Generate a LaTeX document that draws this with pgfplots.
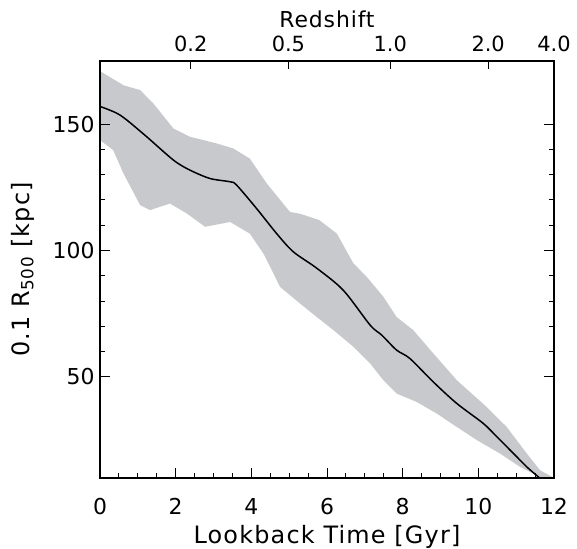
\documentclass[border=0pt]{standalone}
\usepackage{fontspec}
\setmainfont{DejaVu Sans}
\usepackage{pgfplots}
\pgfplotsset{compat=1.18}
\definecolor{band}{RGB}{200,201,204}
\newcommand{\ticksz}{\fontsize{22}{22}\selectfont}
\newcommand{\topsz}{\fontsize{21}{21}\selectfont}
\newcommand{\labsz}{\fontsize{24}{24}\selectfont\addfontfeatures{LetterSpace=5}}
\begin{document}
\begin{tikzpicture}
\useasboundingbox (-100bp,-71bp) rectangle (477bp,478bp);
% main axis: lookback time vs radius
\begin{axis}[at={(0,0)}, anchor=south west, scale only axis,
  width=454bp, height=417bp,
  xmin=0, xmax=12, ymin=10, ymax=175,
  xtick={0,2,...,12}, minor x tick num=3,
  ytick={50,100,150}, minor y tick num=4,
  tick align=inside, xtick pos=bottom, ytick pos=both,
  major tick length=10bp, minor tick length=5bp,
  axis line style={line width=1.2bp},
  every tick/.style={black, line width=1bp},
  axis on top,
  /pgf/number format/assume math mode=true,
  ticklabel style={font=\ticksz},
  xticklabel style={anchor=north, yshift=-17bp},
  yticklabel style={anchor=east, xshift=-2bp},
  xlabel={\labsz Lookback Time [Gyr]},
  ylabel={\labsz 0.1 R\textsubscript{500} [kpc]},
  xlabel style={at={(axis description cs:0.5,-0.156)}, anchor=base},
  ylabel style={at={(axis description cs:-0.17,0.5)}, anchor=center},
]
% scatter band: upper edge, then lower edge backwards
\addplot[fill=band, draw=none] coordinates {
(0,171) (0.62,165.4) (1.06,163.5) (1.41,158.2) (1.94,148.3) (2.38,145.0)
(3.08,142.4) (3.52,140.4) (3.96,136.4) (4.41,126.5) (5.02,115.3) (5.3,114.5)
(5.8,112.0) (6.26,106.7) (6.70,94.9) (7.05,89.6) (7.49,81.7) (7.84,73.7)
(8.28,68.5) (8.81,59.3) (9.43,48.7) (10.22,38.1) (10.75,30.2) (11.28,19.7)
(11.63,13.1) (12,10) (12,8)
(11.63,10.4) (11.10,14.4) (10.57,19.7) (9.96,25.0) (9.43,30.2) (8.90,35.5)
(8.37,40.1) (7.84,43.4) (7.49,48.7) (7.14,55.3) (6.70,61.9) (6.17,68.5)
(5.73,73.7) (5.29,79.0) (4.76,85.6) (4.32,98.8) (3.96,106.7) (3.44,111.3)
(2.78,109.4) (2.29,114.7) (1.85,118.6) (1.32,116.0) (1.06,118.0) (0.62,130.5)
(0.35,139.7) (0,143.7)
} -- cycle;
\addplot[black, line width=1.5bp, smooth, tension=0.5] coordinates {
(0,157) (0.53,153.6) (1.19,145.6) (1.94,135.8) (2.38,131.8) (2.91,128.5)
(3.44,127.2) (3.61,125.9) (4.14,116.6) (4.67,106.7) (5.11,99.5) (5.73,93.0)
(6.43,84.3) (7.14,70.5) (7.45,66.5) (7.84,60.6) (8.19,57.3) (8.81,48.0)
(9.43,39.5) (10.13,31.6) (10.49,26.3) (10.93,19.7) (11.28,14.4) (11.59,10.4)
(11.7,9)
};
\end{axis}
% top axis: redshift
\begin{axis}[at={(0,0)}, anchor=south west, scale only axis,
  width=454bp, height=417bp,
  xmin=0, xmax=12, ymin=10, ymax=175,
  axis x line*=top, axis y line=none,
  xtick={2.40,4.98,7.67,10.26,12.0},
  xticklabels={0.2,0.5,1.0,2.0,4.0},
  tick align=inside, major tick length=8bp,
  axis line style={line width=1.2bp},
  every tick/.style={black, line width=1bp},
  ticklabel style={font=\topsz},
  xticklabel style={anchor=south, yshift=6bp},
  xlabel={\fontsize{22}{22}\selectfont\addfontfeatures{LetterSpace=4}Redshift},
  xlabel style={at={(axis description cs:0.5,1.0)}, anchor=south, yshift=30bp},
]
\end{axis}
\end{tikzpicture}
\end{document}
